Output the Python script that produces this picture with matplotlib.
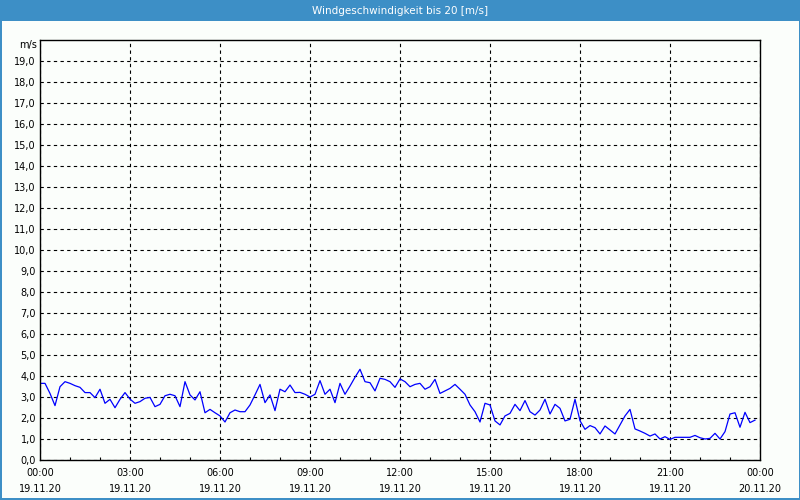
import matplotlib
matplotlib.use("Agg")
import matplotlib.pyplot as plt
from matplotlib.patches import Rectangle
import numpy as np

TITLE = "Windgeschwindigkeit bis 20 [m/s]"
BLUE = "#3d8fc6"
BG = "#fbfefb"

# 10-Minuten-Werte, 19.11.20 00:00 .. 23:50
minutes = np.arange(0, 1440, 10)
speed = [
    3.65, 3.65, 3.17, 2.59, 3.49, 3.73, 3.65, 3.54, 3.46, 3.21,
    3.21, 2.97, 3.37, 2.70, 2.89, 2.49, 2.89, 3.21, 2.90, 2.70,
    2.78, 2.94, 2.98, 2.54, 2.65, 3.06, 3.13, 3.06, 2.54, 3.73,
    3.10, 2.86, 3.25, 2.25, 2.41, 2.25, 2.10, 1.81, 2.25, 2.38,
    2.30, 2.30, 2.62, 3.10, 3.60, 2.73, 3.10, 2.35, 3.37, 3.25,
    3.57, 3.21, 3.22, 3.13, 3.00, 3.13, 3.78, 3.13, 3.37, 2.73,
    3.65, 3.13, 3.52, 3.94, 4.32, 3.73, 3.68, 3.29, 3.89, 3.84,
    3.73, 3.46, 3.86, 3.73, 3.49, 3.60, 3.65, 3.37, 3.49, 3.84,
    3.17, 3.29, 3.41, 3.60, 3.37, 3.13, 2.62, 2.30, 1.81, 2.70,
    2.62, 1.86, 1.67, 2.10, 2.22, 2.65, 2.35, 2.83, 2.30, 2.14,
    2.38, 2.89, 2.19, 2.65, 2.46, 1.86, 1.94, 2.89, 1.87, 1.46,
    1.64, 1.54, 1.24, 1.62, 1.43, 1.24, 1.67, 2.10, 2.41, 1.48,
    1.38, 1.27, 1.14, 1.24, 1.00, 1.11, 0.98, 1.08, 1.08, 1.08,
    1.08, 1.17, 1.06, 1.00, 1.03, 1.27, 1.00, 1.35, 2.19, 2.25,
    1.56, 2.27, 1.78, 1.90,
]

tick_hours = [0, 3, 6, 9, 12, 15, 18, 21, 24]
tick_times = ["00:00", "03:00", "06:00", "09:00", "12:00",
              "15:00", "18:00", "21:00", "00:00"]
tick_dates = ["19.11.20"] * 8 + ["20.11.20"]
y_ticks = list(range(0, 20))


def main():
    fig = plt.figure(figsize=(8, 5), dpi=100, facecolor=BG)

    # Titelleiste + Fensterrahmen
    fig.patches.append(Rectangle((0, 1 - 21 / 500), 1, 21 / 500, transform=fig.transFigure,
                                 facecolor=BLUE, edgecolor="none", zorder=0))
    fig.patches.append(Rectangle((0, 0), 1.5 / 800, 1, transform=fig.transFigure,
                                 facecolor=BLUE, edgecolor="none"))
    fig.patches.append(Rectangle((1 - 1.5 / 800, 0), 1.5 / 800, 1, transform=fig.transFigure,
                                 facecolor=BLUE, edgecolor="none"))
    fig.patches.append(Rectangle((0, 0), 1, 2.5 / 500, transform=fig.transFigure,
                                 facecolor=BLUE, edgecolor="none"))
    fig.text(0.5, 1 - 10.5 / 500, TITLE, color="white", fontsize=7.5,
             ha="center", va="center")

    ax = fig.add_axes([40 / 800, 40 / 500, 720 / 800, 420 / 500])
    ax.set_facecolor(BG)
    ax.plot(minutes / 60, speed, color="#0000ff", linewidth=0.9)

    ax.set_xlim(0, 24)
    ax.set_ylim(0, 20)
    ax.set_xticks(tick_hours)
    ax.set_xticklabels([t + "\n" + d for t, d in zip(tick_times, tick_dates)],
                       linespacing=1.75)
    ax.set_xticks(range(0, 25), minor=True)
    ax.set_yticks(y_ticks)
    ax.set_yticklabels([("%.1f" % v).replace(".", ",") for v in y_ticks])
    ax.tick_params(axis="x", which="major", length=0, pad=6, labelsize=7, colors="black")
    ax.tick_params(axis="x", which="minor", direction="in", length=2.5, width=0.8)
    ax.tick_params(axis="y", which="major", length=0, pad=3, labelsize=7)
    ax.text(-0.004, 19.75, "m/s", transform=ax.get_yaxis_transform(),
            ha="right", va="center", fontsize=7)

    ax.grid(True, color="black", linestyle=(0, (3, 3)), linewidth=0.8)
    for s in ax.spines.values():
        s.set_linewidth(1.0)
        s.set_color("black")

    fig.savefig("out.png", dpi=100, facecolor=BG)
    plt.close(fig)


if __name__ == "__main__":
    main()
